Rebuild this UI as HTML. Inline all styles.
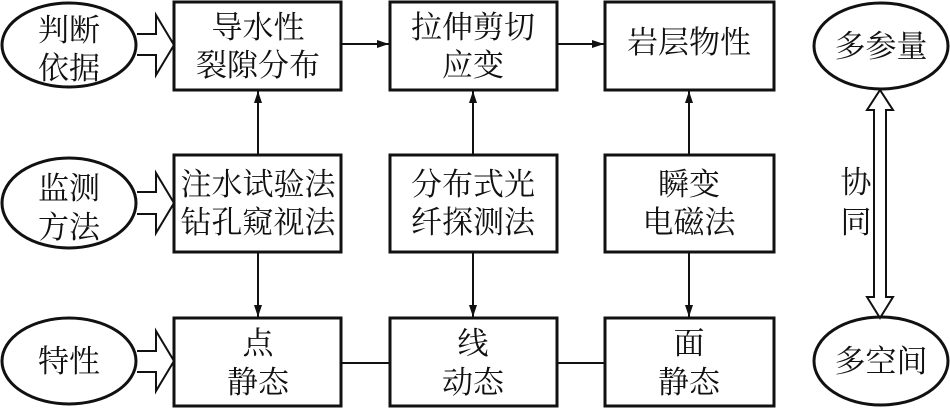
<!DOCTYPE html>
<html><head><meta charset="utf-8"><style>
html,body{margin:0;padding:0;background:#fff}
svg{display:block}
text{font-family:"Liberation Serif","Noto Serif CJK SC","Noto Sans CJK SC",serif;font-size:31px;fill:#111;text-anchor:middle}
</style></head><body>
<svg width="950" height="408" viewBox="0 0 950 408" xmlns="http://www.w3.org/2000/svg">
<defs><marker id="a" markerWidth="12" markerHeight="8" refX="12" refY="4" orient="auto" markerUnits="userSpaceOnUse"><path d="M0,0 L12,4 L0,8 Z" fill="#111"/></marker></defs>
<g fill="#fff" stroke="#111" stroke-width="3">
<rect x="174" y="2" width="167" height="88"/>
<rect x="390" y="2" width="167" height="88"/>
<rect x="605" y="2" width="169" height="88"/>
<rect x="174" y="155" width="167" height="97"/>
<rect x="390" y="155" width="167" height="97"/>
<rect x="605" y="155" width="169" height="97"/>
<rect x="174" y="318" width="167" height="88"/>
<rect x="390" y="318" width="167" height="88"/>
<rect x="605" y="318" width="169" height="88"/>
<ellipse cx="69" cy="45" rx="67" ry="42"/>
<ellipse cx="69" cy="203" rx="67" ry="45"/>
<ellipse cx="69" cy="361" rx="67" ry="43"/>
<ellipse cx="881" cy="46" rx="67" ry="43"/>
<ellipse cx="881" cy="361" rx="67" ry="44"/>
</g>
<g fill="none" stroke="#111" stroke-width="2">
<path d="M137,34 H156 V15 L174,45 L156,75 V55 H137"/>
<path d="M137,192 H156 V173 L174,203 L156,233 V214 H137"/>
<path d="M137,351 H156 V331 L174,361 L156,391 V372 H137"/>
<path d="M874,297 H867 L880,318 L893,297 H886 V110 H893 L880,90 L867,110 H874 Z"/>
<line x1="341" y1="44" x2="389" y2="44" marker-end="url(#a)"/>
<line x1="557" y1="44" x2="604" y2="44" marker-end="url(#a)"/>
<line x1="258" y1="155" x2="258" y2="91" marker-end="url(#a)"/>
<line x1="473" y1="155" x2="473" y2="91" marker-end="url(#a)"/>
<line x1="689" y1="155" x2="689" y2="91" marker-end="url(#a)"/>
<line x1="258" y1="252" x2="258" y2="317" marker-end="url(#a)"/>
<line x1="473" y1="252" x2="473" y2="317" marker-end="url(#a)"/>
<line x1="689" y1="252" x2="689" y2="317" marker-end="url(#a)"/>
<line x1="341" y1="363" x2="390" y2="363"/>
<line x1="557" y1="363" x2="605" y2="363"/>
</g>
<text x="69" y="41">判断</text><text x="69" y="79">依据</text>
<text x="69" y="199">监测</text><text x="69" y="238">方法</text>
<text x="69" y="372">特性</text>
<text x="881" y="57">多参量</text>
<text x="881" y="372">多空间</text>
<text x="856" y="193">协</text><text x="856" y="233">同</text>
<text x="258" y="38">导水性</text><text x="258" y="76">裂隙分布</text>
<text x="473" y="38">拉伸剪切</text><text x="473" y="76">应变</text>
<text x="689" y="53">岩层物性</text>
<text x="258" y="195">注水试验法</text><text x="258" y="233">钻孔窥视法</text>
<text x="473" y="195">分布式光</text><text x="473" y="233">纤探测法</text>
<text x="689" y="195">瞬变</text><text x="689" y="233">电磁法</text>
<text x="258" y="354">点</text><text x="258" y="393">静态</text>
<text x="473" y="354">线</text><text x="473" y="393">动态</text>
<text x="689" y="354">面</text><text x="689" y="393">静态</text>
</svg>
</body></html>
